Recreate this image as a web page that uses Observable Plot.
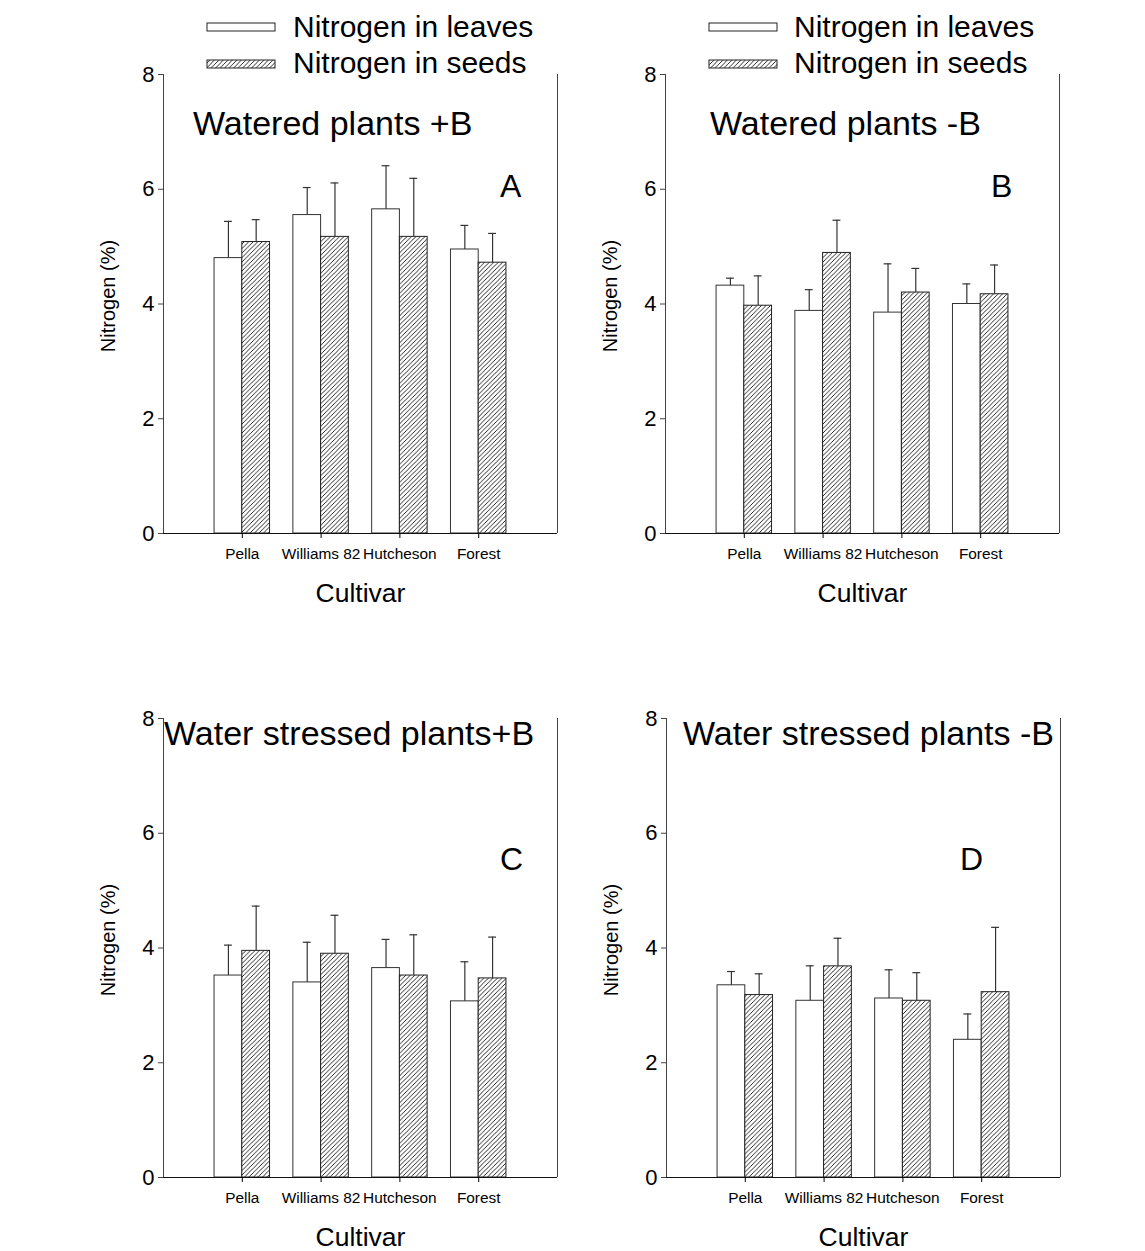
<!DOCTYPE html>
<html><head><meta charset="utf-8">
<script src="https://cdn.jsdelivr.net/npm/d3@7"></script>
<script src="https://cdn.jsdelivr.net/npm/@observablehq/plot@0.6"></script>
<style>
body{margin:0;background:#fff;}
#wrap{position:relative;width:1145px;height:1251px;font-family:"Liberation Sans",Arial,sans-serif;background:#fff;}
#wrap svg.panel{position:absolute;}
#overlay{position:absolute;left:0;top:0;pointer-events:none;}
</style></head><body>
<svg width="0" height="0" style="position:absolute">
  <defs>
    <pattern id="hatch" patternUnits="userSpaceOnUse" width="4.5" height="4.5">
      <rect width="4.5" height="4.5" fill="white"/>
      <path d="M-1,1 l2,-2 M0,4.5 l4.5,-4.5 M3.5,5.5 l2,-2" stroke="#111" stroke-width="0.9"/>
    </pattern>
  </defs>
</svg>
<div id="wrap"></div>
<script>
const cultivars = ["Pella", "Williams 82", "Hutcheson", "Forest"];
const seriesNames = ["Nitrogen in leaves", "Nitrogen in seeds"];
const panelTitles = ["Watered plants +B", "Watered plants -B", "Water stressed plants+B", "Water stressed plants -B"];
const panelLetters = ["A", "B", "C", "D"];
const yTicks = [0, 2, 4, 6, 8];

// Panel A: watered +B
const leavesA = [4.80, 5.55, 5.65, 4.95];
const leavesA_se = [0.64, 0.48, 0.76, 0.42];
const seedsA = [5.08, 5.17, 5.17, 4.72];
const seedsA_se = [0.39, 0.94, 1.02, 0.51];
// Panel B: watered -B
const leavesB = [4.32, 3.88, 3.85, 4.00];
const leavesB_se = [0.13, 0.37, 0.85, 0.35];
const seedsB = [3.97, 4.89, 4.20, 4.17];
const seedsB_se = [0.52, 0.57, 0.42, 0.51];
// Panel C: water stressed +B
const leavesC = [3.52, 3.40, 3.65, 3.07];
const leavesC_se = [0.53, 0.70, 0.50, 0.69];
const seedsC = [3.95, 3.90, 3.52, 3.47];
const seedsC_se = [0.78, 0.67, 0.71, 0.72];
// Panel D: water stressed -B
const leavesD = [3.35, 3.08, 3.12, 2.40];
const leavesD_se = [0.24, 0.61, 0.50, 0.45];
const seedsD = [3.18, 3.68, 3.08, 3.23];
const seedsD_se = [0.37, 0.49, 0.49, 1.13];

const FONT = '"Liberation Sans", Arial, Helvetica, sans-serif';
const BW = 0.352;   // bar width in x units
const CAP = 0.05;   // half cap width

function makePanel(leaves, leavesSe, seeds, seedsSe, layout) {
  const rows = cultivars.flatMap((c, i) => [
    {cultivar: c, pos: i + 1, part: "leaves", mean: leaves[i], se: leavesSe[i]},
    {cultivar: c, pos: i + 1, part: "seeds", mean: seeds[i], se: seedsSe[i]}
  ]);
  const lv = rows.filter(d => d.part === "leaves");
  const sd = rows.filter(d => d.part === "seeds");
  const xc = d => d.part === "leaves" ? d.pos - BW / 2 : d.pos + BW / 2;
  const svg = Plot.plot({
    width: layout.width, height: layout.height,
    marginLeft: layout.ml, marginRight: layout.mr, marginTop: layout.mt, marginBottom: layout.mb,
    style: {fontFamily: FONT, color: "black", background: "transparent", overflow: "visible"},
    x: {domain: [0, 5]},
    y: {domain: [0, 8]},
    marks: [
      Plot.rectY(lv, {x1: d => d.pos - BW, x2: "pos", y1: 0, y2: "mean", fill: "white", stroke: "#333", strokeWidth: 1, inset: 0}),
      Plot.rectY(sd, {x1: "pos", x2: d => d.pos + BW, y1: 0, y2: "mean", fill: "url(#hatch)", stroke: "#222", strokeWidth: 1, inset: 0}),
      Plot.ruleX(rows, {x: xc, y1: "mean", y2: d => d.mean + d.se, stroke: "#333", strokeWidth: 1.2}),
      Plot.ruleY(rows, {y: d => d.mean + d.se, x1: d => xc(d) - CAP, x2: d => xc(d) + CAP, stroke: "#333", strokeWidth: 1.2}),
      Plot.ruleX([0, 5], {y1: 0, y2: 8, stroke: "#444", strokeWidth: 1}),
      Plot.ruleY([0], {x1: -0.03, x2: 5, stroke: "#111", strokeWidth: 1}),
      Plot.axisY({ticks: yTicks, tickSize: 5, tickPadding: 4, fontSize: 22, label: null, stroke: "#444"}),
      Plot.axisX({ticks: [1, 2, 3, 4], tickFormat: d => cultivars[d - 1], tickSize: 5, tickPadding: 10, fontSize: 15.4, label: null}),
      Plot.text(["Nitrogen (%)"], {frameAnchor: "left", textAnchor: "middle", lineAnchor: "middle", rotate: -90, dx: -55, dy: -8, fontSize: 20, fill: "black"}),
      Plot.text(["Cultivar"], {frameAnchor: "bottom", textAnchor: "middle", lineAnchor: "middle", dy: 60, fontSize: 26.5, fill: "black"})
    ]
  });
  svg.classList.add("panel");
  svg.style.left = layout.left + "px";
  svg.style.top = layout.top + "px";
  return svg;
}

const wrap = document.getElementById("wrap");
wrap.appendChild(makePanel(leavesA, leavesA_se, seedsA, seedsA_se,
  {left: 0, top: 0, width: 572, height: 625, ml: 163, mr: 15, mt: 74, mb: 92}));
wrap.appendChild(makePanel(leavesB, leavesB_se, seedsB, seedsB_se,
  {left: 572, top: 0, width: 573, height: 625, ml: 93, mr: 86, mt: 74, mb: 92}));
wrap.appendChild(makePanel(leavesC, leavesC_se, seedsC, seedsC_se,
  {left: 0, top: 625, width: 572, height: 626, ml: 163, mr: 15, mt: 93, mb: 74}));
wrap.appendChild(makePanel(leavesD, leavesD_se, seedsD, seedsD_se,
  {left: 572, top: 625, width: 573, height: 626, ml: 94, mr: 85, mt: 93, mb: 74}));

// Overlay: titles, panel letters, legends
const ov = d3.select(wrap).append("svg").attr("id", "overlay")
  .attr("width", 1145).attr("height", 1251)
  .style("font-family", FONT);

const titlePos = [[193, 135], [710, 135], [164, 745], [683, 745]];
const letterPos = [[500, 197], [991, 197], [500, 870], [960, 870]];
panelTitles.forEach((t, i) => {
  ov.append("text").attr("x", titlePos[i][0]).attr("y", titlePos[i][1])
    .attr("font-size", 34).attr("fill", "black").text(t);
  ov.append("text").attr("x", letterPos[i][0]).attr("y", letterPos[i][1])
    .attr("font-size", 32).attr("fill", "black").text(panelLetters[i]);
});

const legendPos = [[207, 293], [709, 794]];
legendPos.forEach(([sx, tx]) => {
  seriesNames.forEach((name, j) => {
    ov.append("rect").attr("x", sx).attr("y", j === 0 ? 23 : 60).attr("width", 68).attr("height", 8)
      .attr("fill", j === 0 ? "white" : "url(#hatch)").attr("stroke", "#222").attr("stroke-width", 1);
    ov.append("text").attr("x", tx).attr("y", j === 0 ? 37 : 72.5)
      .attr("font-size", 30).attr("fill", "black").text(name);
  });
});
</script>
</body></html>
